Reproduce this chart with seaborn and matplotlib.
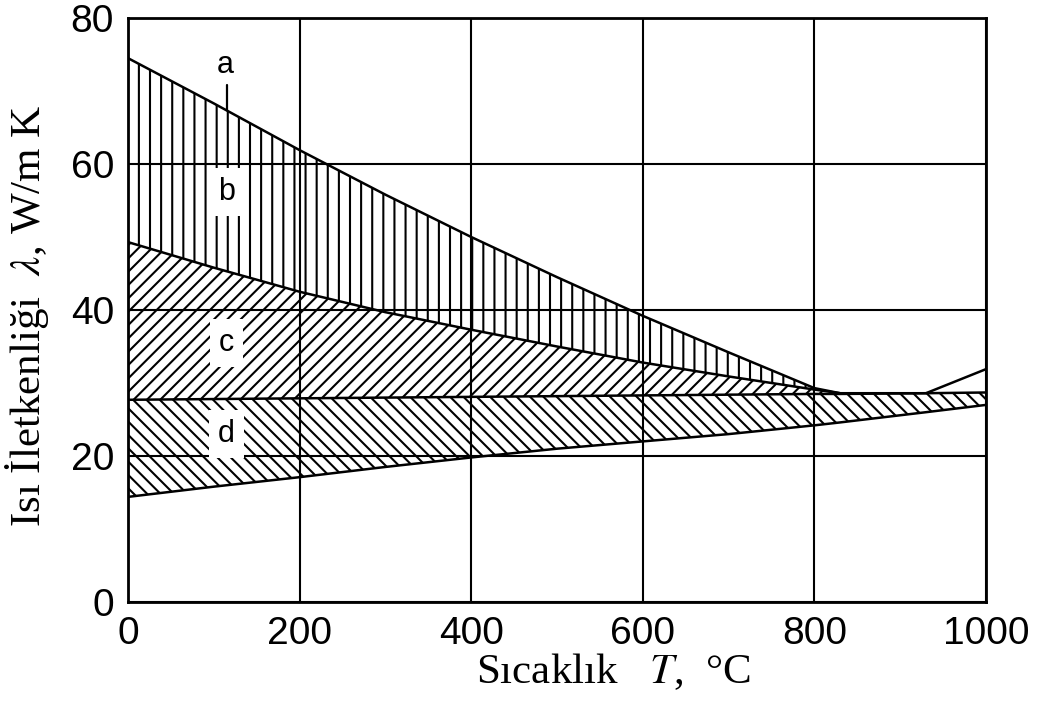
import numpy as np
import matplotlib
matplotlib.use("Agg")
import matplotlib.pyplot as plt
import seaborn as sns

# ---- data ----
temps = [0, 100, 200, 300, 400, 500, 600, 700, 800, 830, 930, 1000]
curve_a = [74.5, 68.3, 61.9, 55.8, 50.0, 44.5, 39.2, 34.2, 29.3, 28.6, 28.6, 31.9]
curve_b = [49.3, 45.8, 42.5, 39.7, 37.3, 35.0, 32.8, 30.9, 29.1, 28.6]
curve_c = [27.7, 27.8, 27.9, 28.0, 28.1, 28.2, 28.3, 28.4, 28.5, 28.5, 28.6, 28.7]
curve_d = [14.4, 15.8, 17.1, 18.5, 19.8, 21.0, 22.0, 23.0, 24.2, 24.6, 26.0, 27.0]

x_ticks = [0, 200, 400, 600, 800, 1000]
y_ticks = [0, 20, 40, 60, 80]
region_labels = ["a", "b", "c", "d"]
label_T = [113, 115, 115, 115]
label_val = [73.6, 56.2, 35.5, 23.0]
pointer_T = [115, 115]
pointer_val = [70.8, 67.4]

sns.set_style("white")
plt.rcParams["font.family"] = ["Liberation Sans", "DejaVu Sans"]
plt.rcParams["mathtext.fontset"] = "stix"
plt.rcParams["hatch.linewidth"] = 0.75
plt.rcParams["hatch.color"] = "black"

fig = plt.figure(figsize=(5.2, 3.505), dpi=200)
ax = fig.add_axes([128 / 1040, 1 - 602 / 701, 858 / 1040, 584 / 701])

n_ab = len(curve_b)
ax.fill_between(temps[:n_ab], curve_a[:n_ab], curve_b, facecolor="none",
                edgecolor="black", hatch="|||", linewidth=0)
ax.fill_between(temps[:n_ab], curve_b, curve_c[:n_ab], facecolor="none",
                edgecolor="black", hatch="/////", linewidth=0)
ax.fill_between(temps, curve_c, curve_d, facecolor="none",
                edgecolor="black", hatch="\\\\\\\\\\", linewidth=0)

lw = 0.9
sns.lineplot(x=temps, y=curve_a, color="black", linewidth=lw, ax=ax)
sns.lineplot(x=temps[:n_ab], y=curve_b, color="black", linewidth=lw, ax=ax)
sns.lineplot(x=temps, y=curve_c, color="black", linewidth=lw, ax=ax)
sns.lineplot(x=temps, y=curve_d, color="black", linewidth=lw, ax=ax)
ax.plot(pointer_T, pointer_val, color="black", linewidth=0.8)

for i, (lab, tx, ty) in enumerate(zip(region_labels, label_T, label_val)):
    kw = {}
    if i > 0:
        kw["bbox"] = dict(boxstyle="square,pad=0.3", facecolor="white", edgecolor="none")
    ax.text(tx, ty, lab, ha="center", va="center", fontsize=11,
            fontfamily="Liberation Sans", color="black", zorder=5, **kw)

ax.set_xlim(0, 1000)
ax.set_ylim(0, 80)
ax.set_xticks(x_ticks)
ax.set_yticks(y_ticks)
ax.tick_params(length=0, labelsize=14, pad=5, colors="black")
ax.grid(True, color="black", linewidth=0.75)
ax.set_axisbelow(True)
for s in ax.spines.values():
    s.set_color("black")
    s.set_linewidth(1.0)

ax.set_xlabel("Sıcaklık   $T$,  °C", fontfamily="Liberation Serif", fontsize=15.5, color="black")
ax.set_ylabel("Isı İletkenliği  $\\lambda$, W/m K", fontfamily="Liberation Serif",
              fontsize=15.5, color="black")
ax.xaxis.set_label_coords(0.566, -0.085)
ax.yaxis.set_label_coords(-0.09, 0.49)

fig.savefig("out.png", dpi=200)
